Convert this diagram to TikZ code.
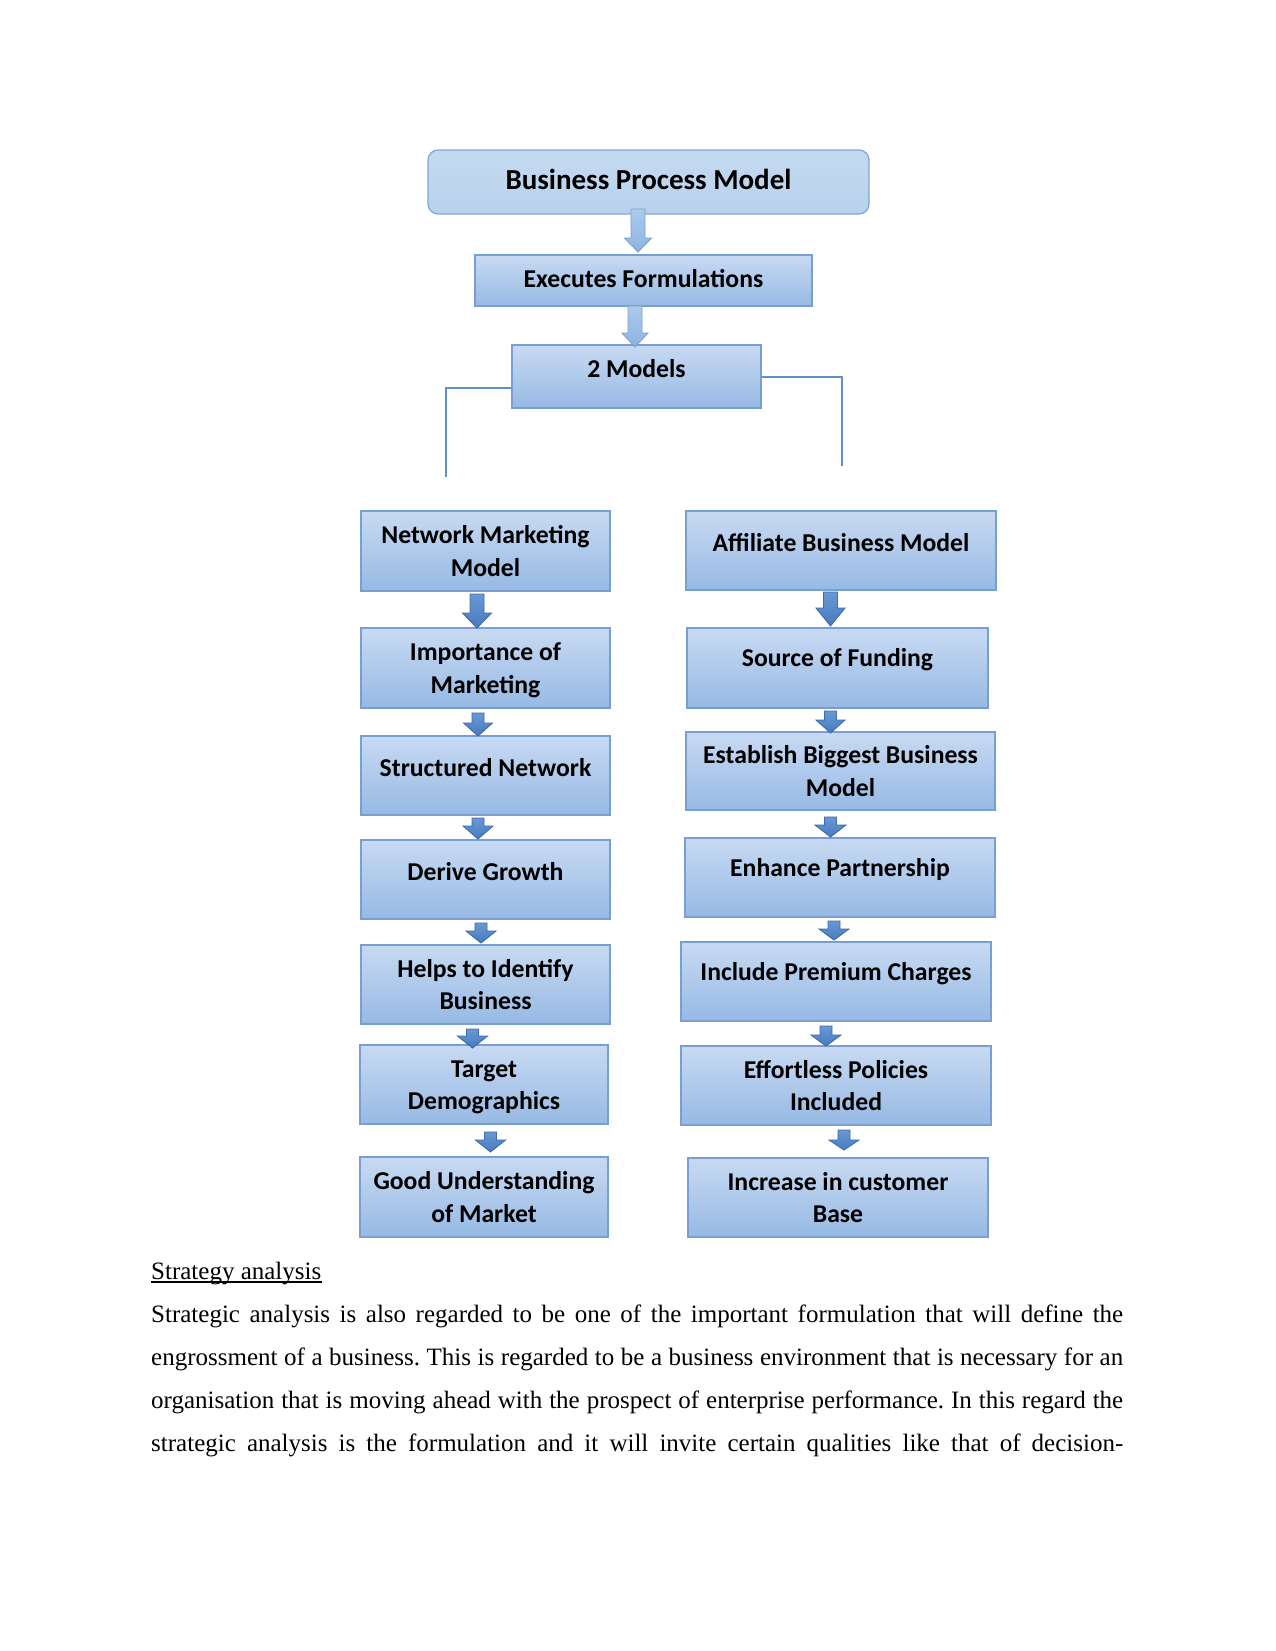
\documentclass[tikz,border=0pt]{standalone}
\usepackage{fontspec}
\setmainfont{Liberation Serif}
\newfontfamily\boxfont{Carlito}
\frenchspacing
\definecolor{boxtop}{RGB}{200,218,242}
\definecolor{boxbot}{RGB}{150,185,228}
\definecolor{boxline}{RGB}{120,158,210}
\definecolor{bpmtop}{RGB}{196,218,240}
\definecolor{bpmbot}{RGB}{184,210,236}
\definecolor{bpmline}{RGB}{128,166,215}
\definecolor{arrltop}{RGB}{172,202,236}
\definecolor{arrlbot}{RGB}{140,180,225}
\definecolor{arrlline}{RGB}{122,160,210}
\definecolor{arrdtop}{RGB}{104,152,212}
\definecolor{arrdbot}{RGB}{72,122,190}
\definecolor{arrdline}{RGB}{62,108,172}
\definecolor{conn}{RGB}{95,145,200}
\newcommand\blockarr[7]{%
  \path[#1] ({#2-#6},#3) -- ({#2+#6},#3) -- ({#2+#6},#4) -- ({#2+#7},#4) -- (#2,#5) -- ({#2-#7},#4) -- ({#2-#6},#4) -- cycle;}
\newcommand\up[1]{\raisebox{8pt}[\height][\depth]{#1}}
\begin{document}
\begin{tikzpicture}[x=1pt,y=-1pt,
  box/.style={rectangle, draw=boxline, line width=1.2pt, top color=boxtop, bottom color=boxbot,
    inner sep=0pt, align=center, font=\boxfont\bfseries\fontsize{25.7}{32.5}\selectfont},
  topbox/.style={rectangle, rounded corners=10pt, draw=bpmline, line width=1.2pt, top color=bpmtop, bottom color=bpmbot,
    inner sep=0pt, align=center, font=\boxfont\bfseries\fontsize{29}{35}\selectfont},
  lightarr/.style={draw=arrlline, line width=0.9pt, top color=arrltop, bottom color=arrlbot},
  darkarr/.style={draw=arrdline, line width=0.9pt, top color=arrdtop, bottom color=arrdbot},
  conn/.style={draw=conn, line width=1.7pt},
  body/.style={inner sep=0pt, anchor=base west, font=\fontsize{25}{30}\selectfont}]
\fill[white] (0,0) rectangle (1275,1651);
\useasboundingbox (0,0) rectangle (1275,1651);

% top part
\node[topbox, minimum width=441pt, minimum height=64pt] (bpm) at (648.5,182) {\raisebox{3pt}[\height][\depth]{Business Process Model}};
\node[box, minimum width=337pt, minimum height=51pt] (exe) at (643.5,280.5) {\raisebox{2pt}[\height][\depth]{Executes Formulations}};
\node[box, minimum width=249pt, minimum height=63pt] (two) at (636.5,376.5) {\up{2 Models}};

\blockarr{lightarr}{638}{209}{238}{252}{7}{13.5}
\blockarr{lightarr}{635}{306}{333}{347}{7}{13}

% connectors
\coordinate (lend) at (446,477);
\coordinate (rend) at (842,466);
\draw[conn] ([yshift=-11.5pt]two.west) -| (lend);
\draw[conn] ([yshift=-0.5pt]two.east) -| (rend);

% left column
\node[box, minimum width=249pt, minimum height=80pt] (nmm) at (485.5,551) {Network Marketing\\Model};
\node[box, minimum width=249pt, minimum height=80pt] (imp) at (485.5,668) {\raisebox{-2pt}[\height][\depth]{Importance of}\\\raisebox{-2pt}[\height][\depth]{Marketing}};
\node[box, minimum width=249pt, minimum height=79pt] (str) at (485.5,775.5) {\up{Structured Network}};
\node[box, minimum width=249pt, minimum height=79pt] (der) at (485.5,879.5) {\up{Derive Growth}};
\node[box, minimum width=249pt, minimum height=79pt] (hel) at (485.5,984.5) {Helps to Identify\\Business};
\node[box, minimum width=248pt, minimum height=79pt] (tar) at (484,1084.5) {\raisebox{-3pt}[\height][\depth]{Target}\\\raisebox{-3pt}[\height][\depth]{Demographics}};
\node[box, minimum width=248pt, minimum height=80pt] (goo) at (484,1197) {Good Understanding\\of Market};

% right column
\node[box, minimum width=310pt, minimum height=79pt] (aff) at (841,550.5) {\up{Affiliate Business Model}};
\node[box, minimum width=301pt, minimum height=80pt] (src) at (837.5,668) {\up{Source of Funding}};
\node[box, minimum width=309pt, minimum height=78pt] (est) at (840.5,771) {Establish Biggest Business\\Model};
\node[box, minimum width=310pt, minimum height=79pt] (enh) at (840,877.5) {\up{Enhance Partnership}};
\node[box, minimum width=310pt, minimum height=79pt] (inc) at (836,981.5) {\up{Include Premium Charges}};
\node[box, minimum width=310pt, minimum height=79pt] (eff) at (836,1085.5) {Effortless Policies\\Included};
\node[box, minimum width=300pt, minimum height=79pt] (incr) at (838,1197.5) {Increase in customer\\Base};

% left arrows
\blockarr{darkarr}{477}{594}{613}{628}{7}{14.5}
\blockarr{darkarr}{478}{713}{723}{736}{6}{14.5}
\blockarr{darkarr}{478}{818}{826}{839}{6}{15}
\blockarr{darkarr}{481}{923}{931}{943}{6}{15}
\blockarr{darkarr}{472.5}{1029}{1036}{1048}{6}{15}
\blockarr{darkarr}{490.5}{1132}{1140}{1152}{6}{15}

% right arrows
\blockarr{darkarr}{830.5}{592}{608}{626}{7}{14.5}
\blockarr{darkarr}{830.5}{711}{720}{733}{6}{14.5}
\blockarr{darkarr}{830.5}{817}{825}{837}{6}{15.5}
\blockarr{darkarr}{834}{921}{929}{940}{6}{15}
\blockarr{darkarr}{826}{1026}{1035}{1046}{6}{15}
\blockarr{darkarr}{844}{1130}{1140}{1150}{6}{15}

% text below
\node[body] (title) at (151,1279) {Strategy analysis};
\draw[line width=1.2pt] ([yshift=-3pt]title.base west) -- ([yshift=-3pt]title.base east);
\node[body] (p1) at (151,1322) {\hbox to 972pt{Strategic analysis is also regarded to be one of the important formulation that will define the}};
\node[body] (p2) at (151,1365) {\hbox to 972pt{engrossment of a business. This is regarded to be a business environment that is necessary for an}};
\node[body] (p3) at (151,1408) {\hbox to 972pt{organisation that is moving ahead with the prospect of enterprise performance. In this regard the}};
\node[body] (p4) at (151,1451) {\hbox to 972pt{strategic analysis is the formulation and it will invite certain qualities like that of decision-}};
\end{tikzpicture}
\end{document}
